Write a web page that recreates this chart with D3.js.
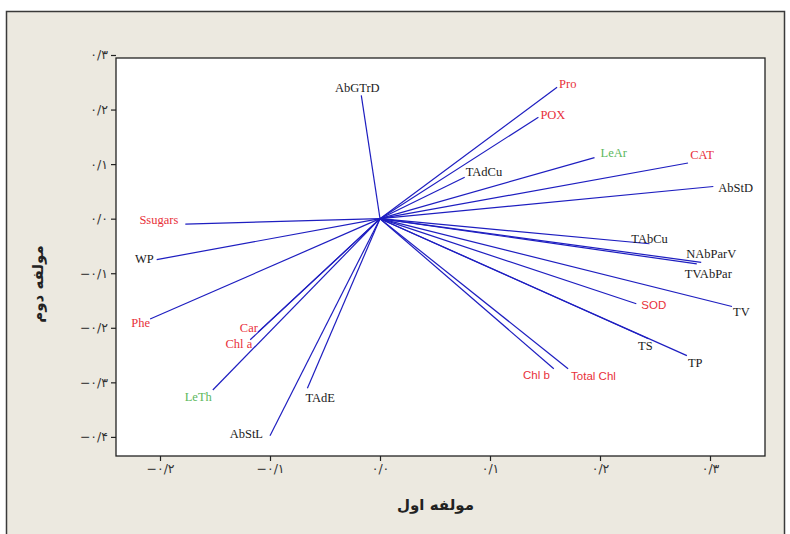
<!DOCTYPE html>
<html lang="fa">
<head>
    <meta charset="utf-8" />
    <title>PCA loading plot</title>
    <script src="https://d3js.org/d3.v7.min.js"></script>
    <style>
        body { margin: 0; background: #fff; }
    </style>
</head>
<body>
<script>
    var w = 790;
    var h = 534;

    // variables and their loadings on the first two components
    var variables = ["AbGTrD", "Pro", "POX", "LeAr", "CAT", "AbStD", "TAdCu", "TAbCu",
        "NAbParV", "TVAbPar", "TV", "SOD", "TS", "TP", "Total Chl", "Chl b",
        "TAdE", "AbStL", "LeTh", "Chl a", "Car", "Phe", "WP", "Ssugars"];
    var pc1 = [-0.017, 0.161, 0.144, 0.195, 0.280, 0.303, 0.077, 0.245,
        0.292, 0.288, 0.320, 0.233, 0.244, 0.279, 0.171, 0.158,
        -0.066, -0.100, -0.152, -0.118, -0.111, -0.209, -0.203, -0.177];
    var pc2 = [0.226, 0.241, 0.186, 0.112, 0.102, 0.059, 0.076, -0.046,
        -0.080, -0.083, -0.161, -0.156, -0.220, -0.251, -0.275, -0.275,
        -0.311, -0.398, -0.314, -0.222, -0.208, -0.184, -0.075, -0.010];

    var xTicks = [-0.2, -0.1, 0.0, 0.1, 0.2, 0.3];
    var yTicks = [0.3, 0.2, 0.1, 0.0, -0.1, -0.2, -0.3, -0.4];

    var xTitle = "مولفه اول";
    var yTitle = "مولفه دوم";

    // label colours (red / green / black in the original)
    var redLabels = ["Pro", "POX", "CAT", "SOD", "Total Chl", "Chl b", "Car", "Chl a", "Phe", "Ssugars"];
    var greenLabels = ["LeAr", "LeTh"];
    var sansLabels = ["SOD", "Total Chl", "Chl b"];

    // where each label sits relative to the end of its arrow
    var labelNudge = {
        "AbGTrD": ["middle", -4, -8], "Pro": ["start", 2, -4], "POX": ["start", 2, -3],
        "LeAr": ["start", 6, -5], "CAT": ["middle", 14, -8], "AbStD": ["start", 5, 1],
        "TAdCu": ["start", 1, -6], "TAbCu": ["middle", 0, -5], "NAbParV": ["start", -15, -9],
        "TVAbPar": ["start", -12, 10], "TV": ["start", 1, 5], "SOD": ["start", 5, 1],
        "TS": ["middle", -3, 7], "TP": ["start", 1, 7], "Total Chl": ["start", 3, 7],
        "Chl b": ["end", -4, 6], "TAdE": ["start", -2, 9], "AbStL": ["end", -7, -2],
        "LeTh": ["end", -1, 7], "Chl a": ["end", 2, 4], "Car": ["end", 0, -5],
        "Phe": ["end", 0, 4], "WP": ["end", -3, -1], "Ssugars": ["end", -7, -5]
    };

    var dataset = variables.map(function(v, i) {
        return { name: v, x: pc1[i], y: pc2[i] };
    });

    var box = { left: 116, right: 765, top: 58, bottom: 456 };

    var xScale = d3.scaleLinear()
        .domain([-0.24, 0.35])
        .range([box.left, box.right]);

    var yScale = d3.scaleLinear()
        .domain([-0.435, 0.2945])
        .range([box.bottom, box.top]);

    // Persian digits with slash as decimal point
    var faDigits = "۰۱۲۳۴۵۶۷۸۹";
    function faFormat(d) {
        var s = Math.abs(d).toFixed(1).replace(".", "/").replace(/[0-9]/g, function(c) {
            return faDigits[+c];
        });
        return (d < -0.0001 ? "\u2212" : "") + s;
    }

    var svg = d3.select("body")
        .append("svg")
        .attr("width", w)
        .attr("height", h);

    // window frame
    svg.append("rect")
        .attr("x", 6.5).attr("y", 11.5)
        .attr("width", 778).attr("height", 540)
        .attr("fill", "#ece9e0")
        .attr("stroke", "#3a3a3a")
        .attr("stroke-width", 1.5);

    // plot area
    svg.append("rect")
        .attr("x", box.left).attr("y", box.top)
        .attr("width", box.right - box.left).attr("height", box.bottom - box.top)
        .attr("fill", "#fff")
        .attr("stroke", "#222")
        .attr("stroke-width", 1.3);

    var xAxis = d3.axisBottom(xScale).tickValues(xTicks).tickSize(5).tickFormat(faFormat);
    var yAxis = d3.axisLeft(yScale).tickValues(yTicks).tickSize(5).tickFormat(faFormat);

    var gx = svg.append("g")
        .attr("transform", "translate(0," + box.bottom + ")")
        .call(xAxis);
    var gy = svg.append("g")
        .attr("transform", "translate(" + box.left + ",0)")
        .call(yAxis);

    [gx, gy].forEach(function(g) {
        g.select(".domain").remove();
        g.selectAll(".tick line").attr("stroke", "#222").attr("stroke-width", 1.2);
        g.selectAll(".tick text")
            .attr("font-family", "DejaVu Sans, sans-serif")
            .attr("font-size", "12.5px")
            .attr("fill", "#333")
            .style("direction", "ltr")
            .style("unicode-bidi", "embed");
    });
    gx.selectAll(".tick text").attr("dy", "0.75em");
    gy.selectAll(".tick text").attr("x", -8);

    // loading vectors
    svg.selectAll("line.vec")
        .data(dataset)
        .enter()
        .append("line")
        .attr("class", "vec")
        .attr("x1", xScale(0))
        .attr("y1", yScale(0))
        .attr("x2", function(d) { return xScale(d.x); })
        .attr("y2", function(d) { return yScale(d.y); })
        .attr("stroke", "#1e1ec0")
        .attr("stroke-width", 1.2);

    // variable labels
    svg.selectAll("text.lab")
        .data(dataset)
        .enter()
        .append("text")
        .attr("class", "lab")
        .text(function(d) { return d.name; })
        .attr("x", function(d) { return xScale(d.x) + labelNudge[d.name][1]; })
        .attr("y", function(d) { return yScale(d.y) + labelNudge[d.name][2]; })
        .attr("dy", "0.35em")
        .attr("text-anchor", function(d) { return labelNudge[d.name][0]; })
        .attr("font-family", function(d) {
            return sansLabels.indexOf(d.name) >= 0 ? "Liberation Sans, sans-serif" : "Liberation Serif, serif";
        })
        .attr("font-size", function(d) {
            return sansLabels.indexOf(d.name) >= 0 ? "11.5px" : "12.5px";
        })
        .attr("fill", function(d) {
            if (redLabels.indexOf(d.name) >= 0) return "#e8303a";
            if (greenLabels.indexOf(d.name) >= 0) return "#5cb85c";
            return "#1a1a1a";
        });

    // axis titles
    svg.append("text")
        .text(xTitle)
        .attr("x", (box.left + box.right) / 2 - 5)
        .attr("y", 505)
        .attr("dy", "0.35em")
        .attr("text-anchor", "middle")
        .attr("font-family", "DejaVu Sans, sans-serif")
        .attr("font-weight", "bold")
        .attr("font-size", "15px")
        .attr("fill", "#222");

    svg.append("text")
        .text(yTitle)
        .attr("transform", "translate(38," + ((box.top + box.bottom) / 2 + 27) + ") rotate(-90)")
        .attr("dy", "0.35em")
        .attr("text-anchor", "middle")
        .attr("font-family", "DejaVu Sans, sans-serif")
        .attr("font-weight", "bold")
        .attr("font-size", "15px")
        .attr("fill", "#222");
</script>
</body>
</html>
